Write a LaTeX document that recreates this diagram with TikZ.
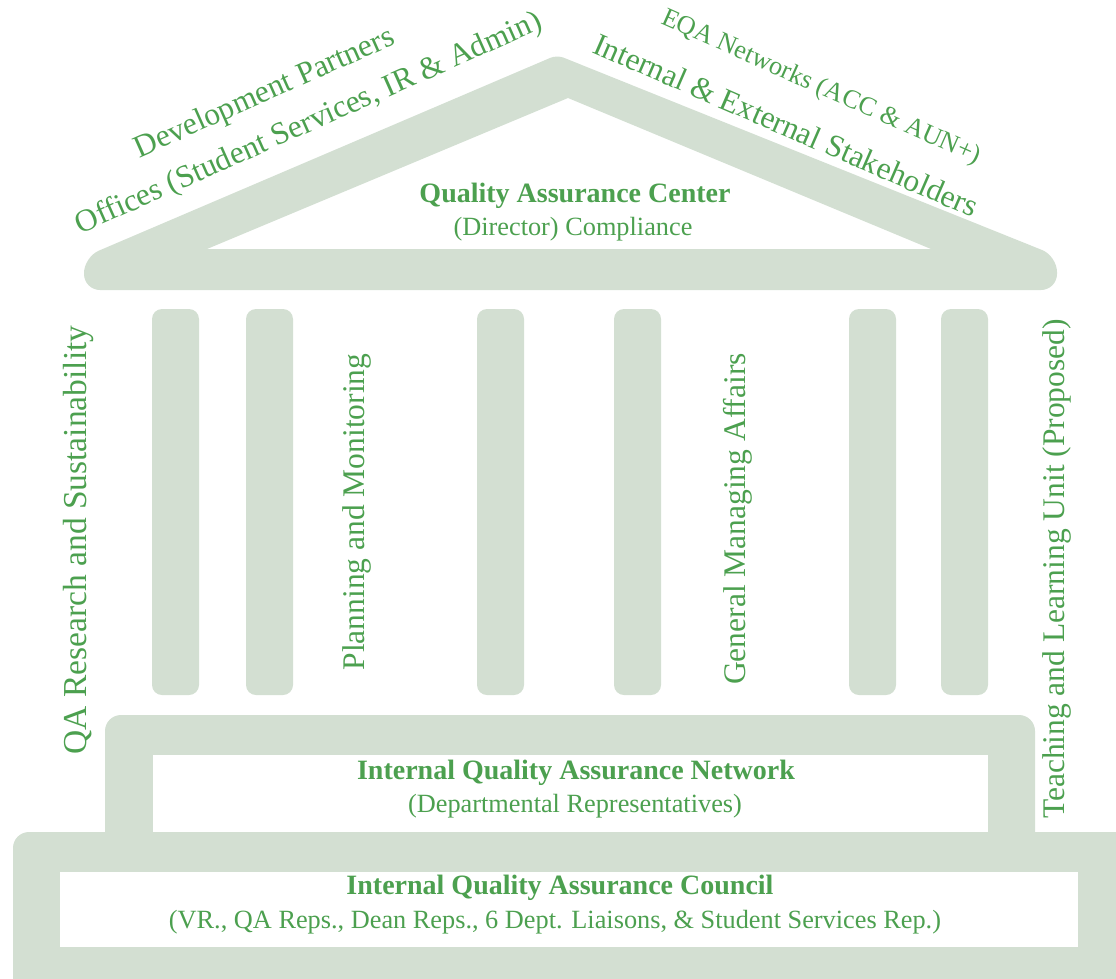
\documentclass[tikz,border=0pt]{standalone}
\usepackage{fontspec}
\setmainfont{Liberation Serif}
\definecolor{sage}{RGB}{211,223,210}
\definecolor{leaf}{RGB}{76,160,79}
\tikzset{
  shapefill/.style={fill=sage},
  holefill/.style={fill=white},
  ttl/.style={text=leaf,font=\bfseries\fontsize{28}{30}\selectfont,inner sep=0pt},
  sub/.style={text=leaf,font=\fontsize{26.3}{28}\selectfont,inner sep=0pt},
  big/.style={text=leaf,font=\fontsize{31.5}{33}\selectfont,inner sep=0pt},
  mid/.style={text=leaf,font=\fontsize{26.3}{28}\selectfont,inner sep=0pt},
}
\begin{document}
\begin{tikzpicture}[x=1pt,y=-1pt]
\useasboundingbox (0,0) rectangle (1116,978);
\clip (0,0) rectangle (1116,978);
% roof
\fill[shapefill,even odd rule,rounded corners=16]
  (84,290) -- (84,257) [rounded corners=7] -- (557,55) [rounded corners=16] -- (1057,256) -- (1057,290) -- cycle
  [sharp corners] (207,249) -- (568,98) -- (931,249) -- cycle;
% columns
\foreach \a in {152,246,477,614,849,941}
  \fill[shapefill,rounded corners=10] (\a,309) rectangle ++(47,386);
% network frame
\fill[shapefill,rounded corners=16] (105,715) rectangle (1035,870);
% council band
\fill[shapefill,rounded corners=16] (13,832) rectangle (1140,1000);
\fill[holefill] (153,755) rectangle (988,832);
\fill[holefill] (60,872) rectangle (1078,947);
% texts
\node[ttl] (qac) at (575,196) {Quality Assurance Center};
\node[sub] (qacs) at (573,229) {(Director) Compliance};
\node[ttl] (iqan) at (576,773) {Internal Quality Assurance Network};
\node[sub] (iqans) at (575,806) {(Departmental Representatives)};
\node[ttl] (iqac) at (560,888) {Internal Quality Assurance Council};
\node[sub] (iqacs) at (555,922) {(VR., QA Reps., Dean Reps., 6 Dept. Liaisons, \& Student Services Rep.)};
\node[big,rotate=90,font=\fontsize{33.5}{35}\selectfont] (qar) at (78,540) {QA Research and Sustainability};
\node[big,rotate=90] (pm) at (357,512) {Planning and Monitoring};
\node[big,rotate=90] (gma) at (738,519) {General Managing Affairs};
\node[big,rotate=90] (tlu) at (1057,569) {Teaching and Learning Unit (Proposed)};
\node[big,rotate=24] (off) at (309,124) {Offices (Student Services, IR \& Admin)};
\node[big,rotate=24] (dev) at (265,94) {Development Partners};
\node[big,rotate=-23.5] (ies) at (786,125) {Internal \& External Stakeholders};
\node[mid,rotate=-24] (eqa) at (821,88) {EQA Networks (ACC \& AUN+)};
\end{tikzpicture}
\end{document}
